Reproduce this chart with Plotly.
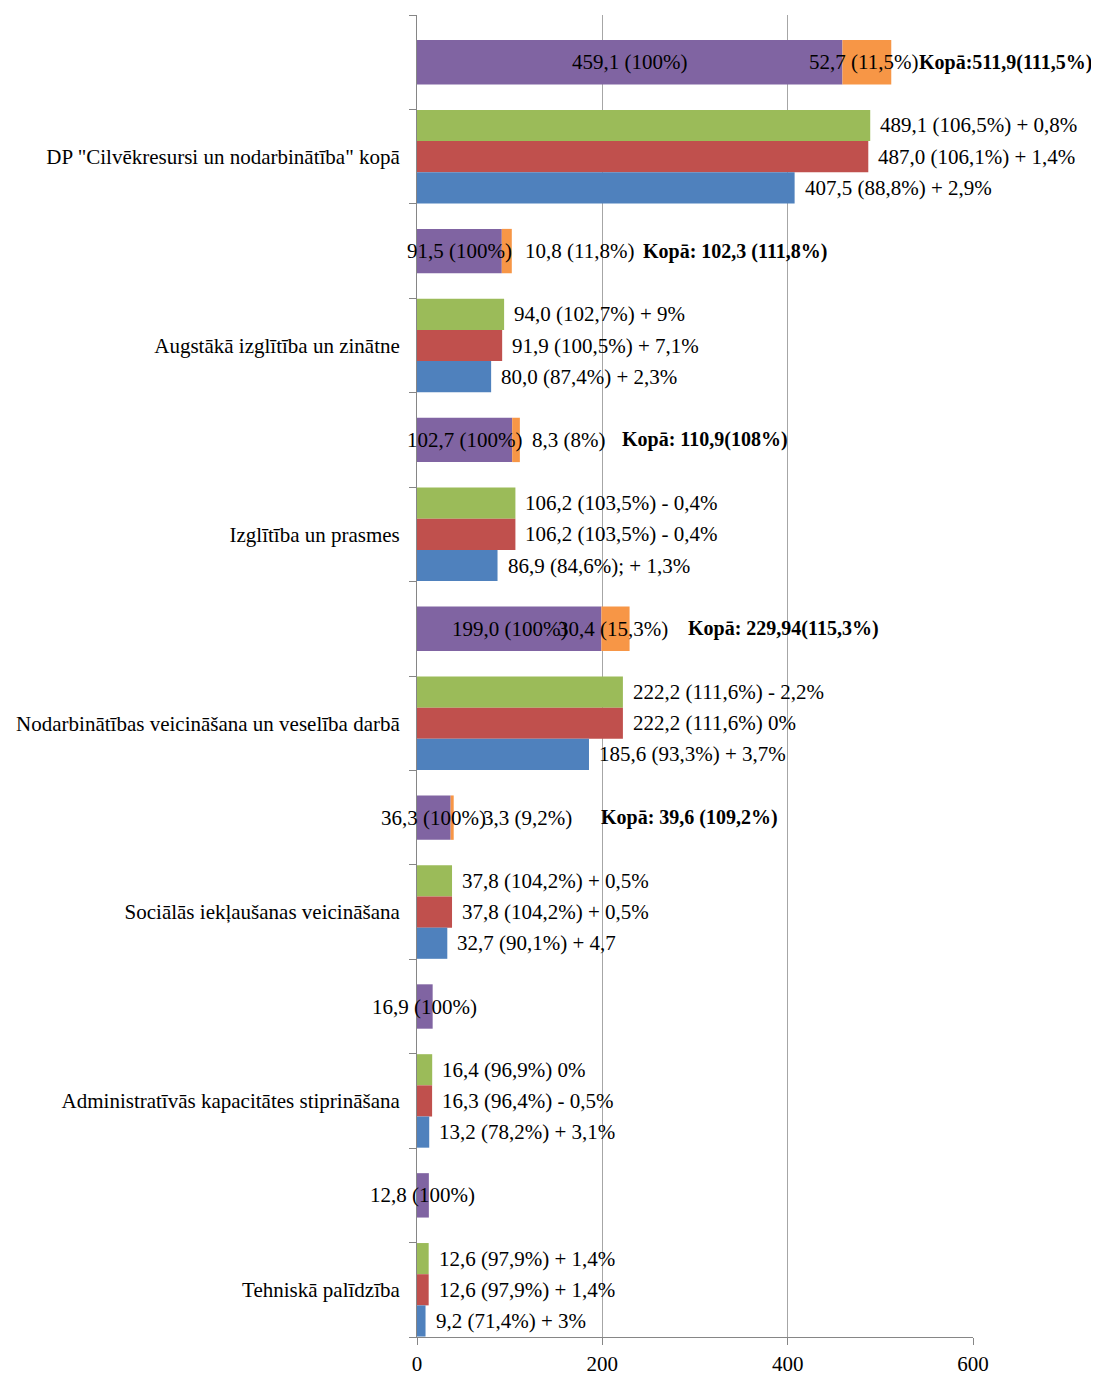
import plotly.graph_objects as go

categories = [
    'DP "Cilvēkresursi un nodarbinātība" kopā',
    "Augstākā izglītība un zinātne",
    "Izglītība un prasmes",
    "Nodarbinātības veicināšana un veselība darbā",
    "Sociālās iekļaušanas veicināšana",
    "Administratīvās kapacitātes stiprināšana",
    "Tehniskā palīdzība",
]

purple_values = [459.1, 91.5, 102.7, 199.0, 36.3, 16.9, 12.8]
purple_labels = ["459,1 (100%)", "91,5 (100%)", "102,7 (100%)", "199,0 (100%)",
                 "36,3 (100%)", "16,9 (100%)", "12,8 (100%)"]

orange_values = [52.7, 10.8, 8.3, 30.4, 3.3]
orange_labels = ["52,7 (11,5%)", "10,8 (11,8%)", "8,3 (8%)", "30,4 (15,3%)", "3,3 (9,2%)"]
total_labels = ["Kopā:511,9(111,5%)", "Kopā: 102,3 (111,8%)", "Kopā: 110,9(108%)",
                "Kopā: 229,94(115,3%)", "Kopā: 39,6 (109,2%)"]

green_values = [489.1, 94.0, 106.2, 222.2, 37.8, 16.4, 12.6]
green_labels = ["489,1 (106,5%) + 0,8%", "94,0 (102,7%) + 9%", "106,2 (103,5%) - 0,4%",
                "222,2 (111,6%) - 2,2%", "37,8 (104,2%) + 0,5%", "16,4 (96,9%) 0%",
                "12,6 (97,9%) + 1,4%"]

red_values = [487.0, 91.9, 106.2, 222.2, 37.8, 16.3, 12.6]
red_labels = ["487,0 (106,1%) + 1,4%", "91,9 (100,5%) + 7,1%", "106,2 (103,5%) - 0,4%",
              "222,2 (111,6%) 0%", "37,8 (104,2%) + 0,5%", "16,3 (96,4%) - 0,5%",
              "12,6 (97,9%) + 1,4%"]

blue_values = [407.5, 80.0, 86.9, 185.6, 32.7, 13.2, 9.2]
blue_labels = ["407,5 (88,8%) + 2,9%", "80,0 (87,4%) + 2,3%", "86,9 (84,6%); + 1,3%",
               "185,6 (93,3%) + 3,7%", "32,7 (90,1%) + 4,7", "13,2 (78,2%) + 3,1%",
               "9,2 (71,4%) + 3%"]

x_ticks = [0, 200, 400, 600]

# colours / fonts (Office 2007 palette, Times-like serif)
PURPLE = "#8064A2"
ORANGE = "#F79646"
GREEN = "#9BBB59"
RED = "#C0504D"
BLUE = "#4F81BD"
FONT = "Liberation Serif"
FS = 21
FS_BOLD = 20

# manual label placement (pixels), as in the original chart
orange_label_mode = ["center", "end", "end", "center", "end"]
orange_label_shift = [-3, 11, 10, -2, 27]
total_label_shift = [26, 129, 100, 56, 145]

# each category has two rows: the stacked purple/orange row above the grouped row
top_keys = ["top_" + str(i) for i in range(len(categories))]
row_keys = []
row_text = []
for k, c in zip(top_keys, categories):
    row_keys += [k, c]
    row_text += ["", c]

BAR_W = 0.33
TOP_W = 0.47
idx = {k: i for i, k in enumerate(row_keys)}

fig = go.Figure()

n_stack = len(orange_values)
fig.add_trace(go.Bar(y=top_keys, x=purple_values, orientation="h", width=TOP_W, offset=-TOP_W / 2,
                     marker=dict(color=PURPLE, line=dict(width=0)), hoverinfo="skip"))
fig.add_trace(go.Bar(y=top_keys[:n_stack], x=orange_values, base=purple_values[:n_stack],
                     orientation="h", width=TOP_W, offset=-TOP_W / 2,
                     marker=dict(color=ORANGE, line=dict(width=0)), hoverinfo="skip"))

group_series = [(green_values, green_labels, GREEN), (red_values, red_labels, RED),
                (blue_values, blue_labels, BLUE)]
for j, (vals, labs, col) in enumerate(group_series):
    off = -1.5 * BAR_W + j * BAR_W
    fig.add_trace(go.Bar(y=categories, x=vals, orientation="h", width=BAR_W, offset=off,
                         marker=dict(color=col, line=dict(width=0)), hoverinfo="skip"))

annotations = []
txt = dict(family=FONT, size=FS, color="black")

# grouped bar labels, just right of each bar end
for j, (vals, labs, col) in enumerate(group_series):
    off = -1.5 * BAR_W + j * BAR_W + BAR_W / 2
    for c, v, t in zip(categories, vals, labs):
        annotations.append(dict(x=v, y=idx[c] + off, text=t, xanchor="left", xshift=8,
                                showarrow=False, font=txt))

# purple labels centred on the bar
for k, v, t in zip(top_keys, purple_values, purple_labels):
    annotations.append(dict(x=v / 2, y=idx[k], text=t, xanchor="center", showarrow=False, font=txt))

# orange and total labels
for i in range(n_stack):
    k = top_keys[i]
    p, o = purple_values[i], orange_values[i]
    if orange_label_mode[i] == "center":
        annotations.append(dict(x=p + o / 2, y=idx[k], text=orange_labels[i], xanchor="center",
                                xshift=orange_label_shift[i], showarrow=False, font=txt))
    else:
        annotations.append(dict(x=p + o, y=idx[k], text=orange_labels[i], xanchor="left",
                                xshift=orange_label_shift[i], showarrow=False, font=txt))
    annotations.append(dict(x=p + o, y=idx[k], text="<b>" + total_labels[i] + "</b>", xanchor="left",
                            xshift=total_label_shift[i], showarrow=False,
                            font=dict(family=FONT, size=FS_BOLD, color="black")))

# page body has an 8px margin, so the figure is 8px smaller than the window
fig.update_layout(
    width=1091, height=1367,
    margin=dict(l=409, r=126, t=7, b=38),
    barmode="overlay",
    showlegend=False,
    plot_bgcolor="white",
    paper_bgcolor="white",
    font=dict(family=FONT, size=FS, color="black"),
    annotations=annotations,
    xaxis=dict(range=[0, 600], tickvals=x_ticks, showgrid=True, gridcolor="#A6A6A6", gridwidth=1,
               zeroline=False, showline=True, linecolor="#868686", linewidth=1,
               ticks="outside", ticklen=7, tickcolor="#868686", automargin=False,
               ticklabelstandoff=1, tickfont=dict(family=FONT, size=FS, color="black")),
    yaxis=dict(type="category", categoryorder="array", categoryarray=row_keys,
               range=[len(row_keys) - 0.5, -0.5], tickmode="array", tickvals=row_keys,
               ticktext=row_text, tickson="boundaries", showgrid=False, zeroline=False,
               showline=True, linecolor="#868686", linewidth=1, automargin=False,
               ticks="outside", ticklen=7, tickcolor="#868686", ticklabelstandoff=12,
               tickfont=dict(family=FONT, size=FS, color="black")),
)

fig.write_html("out.html")
